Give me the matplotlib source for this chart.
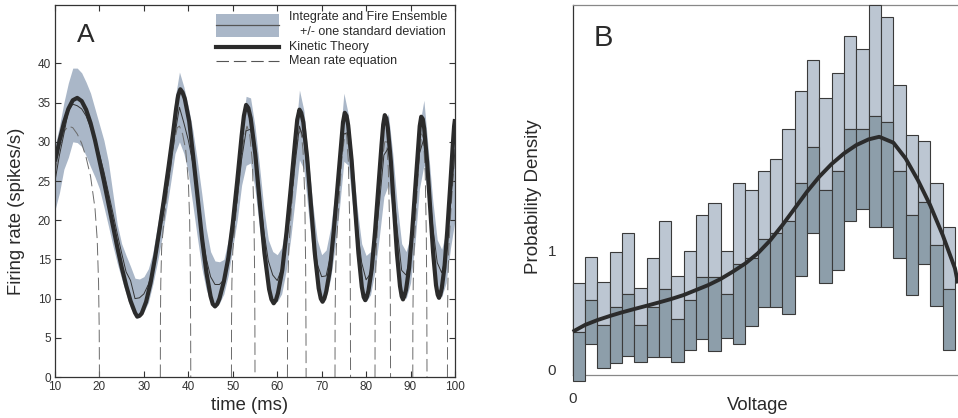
import numpy as np
import matplotlib
matplotlib.use("Agg")
import matplotlib.pyplot as plt
from matplotlib.patches import Rectangle
from matplotlib.lines import Line2D

plt.rcParams['font.family'] = ['Liberation Sans', 'DejaVu Sans']
plt.rcParams['lines.scale_dashes'] = False

# ---------------- Panel A data ----------------
if_time = list(range(10, 101))
if_mean = [25.0, 28.3, 31.0, 33.9, 34.8, 34.6, 34.2, 33.3, 31.8, 30.2,
           28.4, 26.2, 23.6, 21.0, 18.3, 15.8, 13.4, 12.3, 10.0, 10.1,
           10.6, 11.8, 13.6, 16.2, 19.6, 23.0, 26.6, 31.0, 34.4, 32.4,
           30.2, 27.3, 22.8, 18.6, 15.2, 12.8, 11.8, 11.8, 12.4, 14.6,
           18.0, 22.6, 27.8, 31.4, 31.6, 29.0, 23.8, 18.6, 14.8, 13.0,
           12.3, 13.8, 16.8, 21.3, 27.0, 32.0, 30.2, 25.0, 19.0, 14.4,
           12.8, 12.9, 15.5, 20.0, 25.5, 31.0, 31.2, 25.8, 19.2, 14.6,
           12.4, 13.2, 16.8, 22.2, 28.3, 29.2, 24.8, 18.8, 13.6, 13.0,
           15.6, 21.2, 28.5, 30.4, 25.5, 19.2, 14.6, 13.3, 15.6, 22.0,
           29.0]
if_upper = [29.4, 32.0, 35.0, 37.5, 39.4, 39.4, 38.8, 37.6, 36.2, 34.2,
            32.2, 30.2, 27.5, 23.5, 19.5, 17.0, 15.5, 14.1, 12.6, 12.5,
            12.8, 13.8, 15.8, 19.2, 22.5, 26.5, 30.2, 35.5, 38.9, 37.0,
            34.5, 31.5, 27.7, 23.5, 19.0, 16.0, 14.8, 14.7, 15.0, 17.5,
            21.5, 26.5, 31.5, 35.8, 35.6, 32.0, 27.0, 21.5, 17.5, 16.0,
            15.6, 16.5, 19.5, 24.5, 30.5, 36.6, 34.0, 28.0, 22.0, 17.5,
            15.6, 16.2, 19.0, 23.5, 29.5, 36.2, 33.5, 27.5, 21.5, 17.0,
            15.5, 16.0, 19.5, 25.0, 31.5, 33.6, 28.5, 22.0, 17.0, 16.0,
            18.0, 24.0, 32.0, 35.3, 29.0, 22.5, 17.5, 16.3, 18.5, 25.5,
            32.8]
if_lower = [21.3, 23.5, 26.5, 28.0, 30.0, 29.9, 29.4, 28.2, 26.8, 25.5,
            24.0, 21.7, 19.3, 16.8, 14.5, 12.5, 10.6, 8.8, 7.8, 7.7,
            8.3, 9.5, 11.8, 14.5, 17.5, 21.0, 24.7, 28.5, 30.0, 28.5,
            26.0, 22.0, 17.9, 14.0, 11.2, 9.6, 9.0, 9.4, 10.6, 13.0,
            16.5, 20.0, 24.5, 27.0, 27.3, 24.0, 19.0, 14.5, 11.5, 9.8,
            9.6, 10.6, 13.5, 17.5, 22.5, 27.7, 26.5, 21.0, 15.5, 11.5,
            9.8, 10.2, 12.5, 16.5, 21.5, 27.5, 27.0, 21.5, 15.5, 11.3,
            9.6, 10.5, 13.5, 18.0, 23.0, 24.5, 21.0, 15.5, 11.0, 10.0,
            12.0, 17.0, 24.0, 27.0, 22.5, 16.0, 11.5, 10.2, 12.0, 16.5,
            20.0]

kt_time = [10, 11, 12, 13, 14, 15, 16, 17, 18, 19, 20, 21, 22, 23, 24, 25, 26,
           27, 28, 28.5, 29, 29.5, 30.5, 31.5, 32.5, 33.5, 34.5, 35.5, 36.5,
           37.2, 37.7, 38.2, 38.7, 39.2, 40.2, 41.1, 42.1, 43.1, 44.1, 45.0,
           45.5, 46.0, 46.5, 47, 48, 49, 50, 51, 52, 52.5, 53, 53.5, 54.03,
           55.07, 56.1, 57.13, 58.17, 58.7, 59.2, 59.7, 60.17, 61.13, 62.1,
           63.07, 64.03, 64.5, 65, 65.4, 65.87, 66.73, 67.6, 68.47, 69.33,
           69.8, 70.2, 70.6, 71.03, 71.87, 72.7, 73.53, 74.37, 74.8, 75.2,
           75.6, 75.97, 76.73, 77.5, 78.27, 79.03, 79.45, 79.8, 80.15, 80.53,
           81.27, 82.0, 82.73, 83.47, 83.85, 84.2, 84.55, 84.88, 85.57, 86.25,
           86.93, 87.62, 88.0, 88.3, 88.6, 88.98, 89.67, 90.35, 91.03, 91.72,
           92.06, 92.4, 92.75, 93.07, 93.73, 94.4, 95.07, 95.73, 96.1, 96.4,
           96.7, 97.02, 97.63, 98.25, 98.87, 99.48, 99.8, 100.0]
kt_rate = [27.5, 30.1, 32.4, 34.2, 35.3, 35.6, 35.2, 34.1, 32.4, 30.2, 27.6,
           25.0, 22.2, 19.4, 16.6, 14.0, 11.7, 9.7, 8.2, 7.7, 7.8, 8.1, 9.6,
           12.0, 15.2, 18.8, 22.6, 26.6, 30.8, 34.0, 35.9, 36.7, 36.3, 35.5,
           32.6, 28.1, 22.9, 17.6, 13.2, 10.3, 9.3, 9.0, 9.3, 10.0, 12.2, 15.2,
           19.6, 25.0, 30.8, 33.3, 34.7, 34.3, 33.0, 28.4, 22.0, 15.8, 11.2,
           9.9, 9.4, 9.8, 10.7, 13.6, 18.5, 24.2, 30.1, 32.8, 34.1, 33.7, 32.5,
           28.0, 21.9, 15.7, 11.3, 10.0, 9.6, 10.0, 10.9, 13.7, 18.5, 24.1,
           29.8, 32.5, 33.7, 33.3, 32.1, 27.7, 21.8, 15.8, 11.5, 10.2, 9.8,
           10.2, 11.0, 13.8, 18.5, 24.0, 29.6, 32.2, 33.4, 33.0, 31.8, 27.5,
           21.7, 15.8, 11.6, 10.3, 9.9, 10.3, 11.1, 13.9, 18.5, 23.9, 29.5,
           32.0, 33.2, 32.9, 31.7, 27.4, 21.7, 15.9, 11.7, 10.5, 10.1, 10.5,
           11.3, 14.0, 18.6, 23.9, 29.4, 32.0, 32.9]

# mean-rate equation: firing episodes (rate is zero between them; the
# zero stretches lie on the time axis and are not drawn)
mr_time = [10, 11, 12, 13, 14, 15, 16, 17, 18, 19, 19.5, 19.8, 19.95, 20.0,
           None,
           33.7, 33.72, 33.8, 34.0, 34.5, 35.5, 36.5, 37.5, 38.0, 38.7, 39.4,
           40.0, 40.3, 40.45, 40.52, 40.55, None,
           49.7, 49.72, 49.8, 50.0, 50.5, 51.5, 52.5, 53.2, 53.8, 54.4, 54.75,
           54.92, 54.98, 55.0, None,
           62.3, 62.32, 62.4, 62.6, 63.2, 64.0, 64.8, 65.3, 65.8, 66.2, 66.4,
           66.47, 66.5, None,
           73.0, 73.02, 73.1, 73.3, 73.8, 74.5, 75.2, 75.6, 76.0, 76.3, 76.45,
           76.5, None,
           82.0, 82.02, 82.1, 82.3, 82.8, 83.5, 84.2, 84.6, 85.0, 85.3, 85.45,
           85.5, None,
           90.5, 90.52, 90.6, 90.8, 91.3, 91.9, 92.5, 92.9, 93.3, 93.55, 93.66,
           93.7, None,
           98.3, 98.32, 98.4, 98.6, 99.1, 99.6, 100.0]
mr_rate = [26.0, 29.5, 31.3, 32.0, 31.8, 31.0, 29.8, 28.0, 25.6, 21.5, 17.5,
           12.0, 6.0, 0.0, None,
           0.0, 7.0, 12.0, 16.5, 20.0, 24.5, 29.0, 31.8, 32.0, 31.0, 29.0,
           25.0, 20.0, 13.0, 6.0, 0.0, None,
           0.0, 7.0, 12.0, 16.0, 19.5, 25.5, 30.5, 32.0, 31.0, 27.5, 21.0,
           13.0, 6.0, 0.0, None,
           0.0, 7.0, 12.0, 16.5, 21.5, 27.5, 31.0, 31.5, 29.0, 23.0, 14.0,
           6.0, 0.0, None,
           0.0, 7.0, 12.0, 16.5, 21.5, 27.5, 31.0, 31.0, 27.5, 20.0, 11.0,
           0.0, None,
           0.0, 7.0, 12.0, 16.5, 21.5, 27.0, 30.0, 30.0, 26.5, 19.0, 10.0,
           0.0, None,
           0.0, 7.0, 12.0, 16.5, 22.0, 27.5, 31.0, 30.5, 26.0, 18.0, 9.0,
           0.0, None,
           0.0, 7.0, 12.0, 16.5, 21.5, 25.5, 28.5]

a_xticks = [10, 20, 30, 40, 50, 60, 70, 80, 90, 100]
a_yticks = [0, 5, 10, 15, 20, 25, 30, 35, 40]

# ---------------- Panel B data ----------------
hist_mean = [0.31, 0.58, 0.37, 0.52, 0.63, 0.37, 0.52, 0.68, 0.42, 0.58,
             0.78, 0.78, 0.63, 0.89, 0.94, 1.10, 1.15, 1.25, 1.57, 1.88,
             1.51, 1.67, 2.03, 2.03, 2.14, 2.09, 1.67, 1.30, 1.41, 1.05,
             0.68]
hist_sd = [0.415, 0.366, 0.365, 0.469, 0.521, 0.313, 0.418, 0.575, 0.365,
           0.418, 0.523, 0.627, 0.366, 0.679, 0.573, 0.573, 0.625, 0.782,
           0.783, 0.730, 0.783, 0.834, 0.782, 0.677, 0.938, 0.886, 0.730,
           0.677, 0.521, 0.521, 0.523]
dens_v = [0.0, 0.032, 0.065, 0.097, 0.129, 0.161, 0.194, 0.226, 0.258,
          0.290, 0.323, 0.355, 0.387, 0.419, 0.452, 0.484, 0.516, 0.548,
          0.581, 0.613, 0.645, 0.677, 0.710, 0.742, 0.774, 0.802, 0.839,
          0.871, 0.903, 0.935, 0.968, 1.000, 1.008]
dens_p = [0.315, 0.372, 0.414, 0.448, 0.479, 0.507, 0.535, 0.563, 0.592,
          0.625, 0.668, 0.710, 0.761, 0.823, 0.893, 0.977, 1.085, 1.214,
          1.358, 1.499, 1.625, 1.732, 1.823, 1.893, 1.941, 1.963, 1.913,
          1.780, 1.597, 1.386, 1.132, 0.851, 0.724]

# ---------------- Figure ----------------
W, H = 958, 418
fig = plt.figure(figsize=(W / 100, H / 100), dpi=100)

txt = '#2a2a2a'
band_col = '#aab7c8'

axA = fig.add_axes([55 / W, (H - 377) / H, 400 / W, 372 / H])
axA.fill_between(if_time, if_lower, if_upper, color=band_col, lw=0, zorder=1)
axA.plot(if_time, if_mean, color='#333333', lw=0.7, zorder=3)
mr_t = np.array([np.nan if v is None else v for v in mr_time], dtype=float)
mr_r = np.array([np.nan if v is None else v for v in mr_rate], dtype=float)
axA.plot(mr_t, mr_r, color='#6a6a6a', lw=0.7, dashes=[9, 3.5], zorder=2)
axA.plot(kt_time, kt_rate, color='#2b2b2b', lw=3.0, solid_joinstyle='round',
         solid_capstyle='butt', zorder=4)
axA.set_xlim(10, 100)
axA.set_ylim(0, 47.45)
axA.set_xticks(a_xticks)
axA.set_yticks(a_yticks)
axA.tick_params(direction='in', length=4, width=0.8, color='#333333',
                labelsize=8.5, labelcolor='#333333', top=True, right=True,
                pad=3)
for s in axA.spines.values():
    s.set_color('#333333')
    s.set_linewidth(0.9)
    s.set_zorder(5)

# legend (manual)
tA = axA.transAxes
axA.add_patch(Rectangle((0.4025, 0.914), 0.1575, 0.062, transform=tA,
                        facecolor=band_col, edgecolor='none', zorder=6))
axA.add_line(Line2D([0.4025, 0.56], [0.946, 0.946], transform=tA,
                    color='#555555', lw=0.9, zorder=7))
axA.add_line(Line2D([0.4025, 0.56], [0.887, 0.887], transform=tA,
                    color='#2b2b2b', lw=3.0, zorder=7))
axA.add_line(Line2D([0.4025, 0.56], [0.849, 0.849], transform=tA,
                    color='#555555', lw=0.8, dashes=[9, 3.5], zorder=7))
lfs = 9
axA.text(0.585, 0.968, 'Integrate and Fire Ensemble', transform=tA,
         fontsize=lfs, color=txt, va='center', ha='left')
axA.text(0.9775, 0.927, '+/- one standard deviation', transform=tA,
         fontsize=lfs, color=txt, va='center', ha='right')
axA.text(0.585, 0.887, 'Kinetic Theory', transform=tA,
         fontsize=lfs, color=txt, va='center', ha='left')
axA.text(0.585, 0.849, 'Mean rate equation', transform=tA,
         fontsize=lfs, color=txt, va='center', ha='left')

fig.text(86 / W, 1 - 35 / H, 'A', fontsize=19, color=txt, ha='center', va='center')
fig.text(17 / W, 1 - 211 / H, 'Firing rate (spikes/s)', fontsize=13.3,
         color=txt, rotation=90, ha='center', va='center')
fig.text(250 / W, 1 - 406 / H, 'time (ms)', fontsize=13.3, color=txt,
         ha='center', va='center')

# Panel B
axB = fig.add_axes([572.7 / W, (H - 375) / H, (W - 572.7) / W, 370 / H])
nb = len(hist_mean)
bw = 1.0 / nb
edges = [i * bw for i in range(nb)]
lower_b = [m - s for m, s in zip(hist_mean, hist_sd)]
axB.bar(edges, hist_sd, width=bw, bottom=hist_mean, align='edge',
        color='#bcc6d2', edgecolor='#3a3a3a', linewidth=0.8, clip_on=False,
        zorder=2)
axB.bar(edges, hist_sd, width=bw, bottom=lower_b, align='edge',
        color='#8d9eaa', edgecolor='#3a3a3a', linewidth=0.8, clip_on=False,
        zorder=2)
axB.plot(dens_v, dens_p, color='#2b2b2b', lw=2.8, zorder=4, clip_on=False,
         solid_capstyle='butt')
axB.set_xlim(0, 1.008)
axB.set_ylim(-0.0507, 3.077)
axB.set_xticks([0])
axB.set_yticks([0, 1])
axB.set_xticklabels(['0'])
axB.set_yticklabels(['0', '1'])
axB.tick_params(length=0, labelsize=11, labelcolor='#333333')
axB.tick_params(axis='y', pad=12)
axB.tick_params(axis='x', pad=12)
axB.spines['right'].set_visible(False)
axB.spines['left'].set_color('#333333')
axB.spines['top'].set_color('#888888')
axB.spines['bottom'].set_color('#888888')
for s in axB.spines.values():
    s.set_linewidth(0.9)
    s.set_zorder(1)

fig.text(603 / W, 1 - 38 / H, 'B', fontsize=21, color=txt, ha='center', va='center')
fig.text(533 / W, 1 - 197 / H, 'Probability Density', fontsize=13.5,
         color=txt, rotation=90, ha='center', va='center')
fig.text(758 / W, 1 - 405 / H, 'Voltage', fontsize=13.3, color=txt,
         ha='center', va='center')

fig.savefig('out.png', dpi=100)
